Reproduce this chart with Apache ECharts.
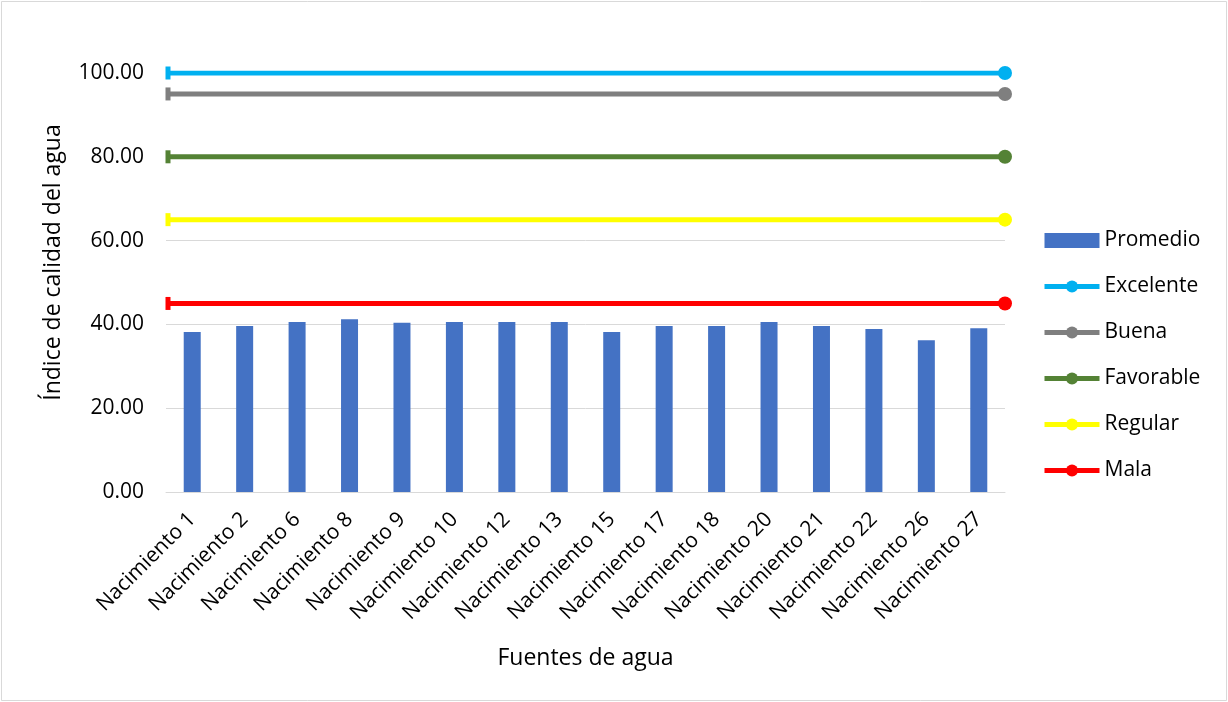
<!DOCTYPE html>
<html>
<head>
<meta charset="utf-8">
<title>Índice de calidad del agua</title>
<script src="https://cdn.jsdelivr.net/npm/echarts@6/dist/echarts.min.js"></script>
<style>
  html, body { margin: 0; padding: 0; background: #fff; }
  #chart { width: 1228px; height: 702px; }
</style>
</head>
<body>
<div id="chart"></div>
<script>
// Fuentes de agua evaluadas
const categorias = [
  'Nacimiento 1', 'Nacimiento 2', 'Nacimiento 6', 'Nacimiento 8',
  'Nacimiento 9', 'Nacimiento 10', 'Nacimiento 12', 'Nacimiento 13',
  'Nacimiento 15', 'Nacimiento 17', 'Nacimiento 18', 'Nacimiento 20',
  'Nacimiento 21', 'Nacimiento 22', 'Nacimiento 26', 'Nacimiento 27'
];

// Índice promedio de cada fuente
const promedio = [38.2, 39.6, 40.6, 41.2, 40.4, 40.6, 40.6, 40.6,
                  38.2, 39.6, 39.6, 40.6, 39.6, 38.9, 36.2, 39.1];

// Límites de cada clase de calidad
const niveles = ['Excelente', 'Buena', 'Favorable', 'Regular', 'Mala'];
const umbrales = [100, 95, 80, 65, 45];
const coloresNivel = ['#00B0F0', '#7F7F7F', '#548235', '#FFFF00', '#FF0000'];

// Escala del eje vertical
const ejeYMin = 0;
const ejeYMax = 100;
const ejeYPaso = 20;

const fuente = '"Open Sans", "Liberation Sans", sans-serif';

const seriesNiveles = niveles.map((nombre, i) => ({
  name: nombre,
  type: 'line',
  xAxisIndex: 1,
  symbol: 'circle',
  symbolSize: 14,
  lineStyle: { width: 5, color: coloresNivel[i] },
  itemStyle: { color: coloresNivel[i] },
  z: 3,
  silent: true,
  data: [
    { value: umbrales[i], symbol: 'rect', symbolSize: [5, 13], symbolOffset: [2, 0] },
    umbrales[i]
  ]
}));

// Entradas de la leyenda: barra rectangular; las líneas usan su icono propio
const leyenda = [{ name: 'Promedio', icon: 'rect' }].concat(niveles);

const chart = echarts.init(document.getElementById('chart'));

chart.setOption({
  animation: false,
  backgroundColor: '#fff',
  textStyle: { fontFamily: fuente },
  graphic: [{
    type: 'rect',
    shape: { x: 1.5, y: 1.5, width: 1225, height: 699 },
    style: { fill: 'none', stroke: '#D9D9D9', lineWidth: 1 },
    silent: true
  }],
  grid: { left: 166, right: 223, top: 73, bottom: 210, containLabel: false },
  legend: {
    orient: 'vertical',
    left: 1037,
    top: 225,
    itemWidth: 55,
    itemHeight: 15,
    itemGap: 25,
    lineStyle: { width: 5 },
    textStyle: { fontFamily: fuente, fontSize: 21, color: '#000', lineHeight: 20 },
    data: leyenda
  },
  xAxis: [{
    type: 'category',
    data: categorias,
    name: 'Fuentes de agua',
    nameLocation: 'middle',
    nameGap: 155,
    nameTextStyle: { fontFamily: fuente, fontSize: 23, color: '#000' },
    axisLine: { lineStyle: { color: '#D9D9D9', width: 1 } },
    axisTick: { show: false },
    axisLabel: {
      rotate: 45,
      margin: 24,
      fontFamily: fuente,
      fontSize: 21,
      color: '#000'
    }
  }, {
    type: 'category',
    data: ['inicio', 'fin'],
    boundaryGap: false,
    show: false
  }],
  yAxis: {
    type: 'value',
    min: ejeYMin,
    max: ejeYMax,
    interval: ejeYPaso,
    name: 'Índice de calidad del agua',
    nameLocation: 'middle',
    nameRotate: 90,
    nameGap: 101,
    nameTextStyle: { fontFamily: fuente, fontSize: 23, color: '#000', padding: [0, 0, 0, 40] },
    axisLine: { show: false },
    axisTick: { show: false },
    splitLine: { lineStyle: { color: '#D9D9D9', width: 1 } },
    axisLabel: {
      margin: 22,
      fontFamily: fuente,
      fontSize: 21,
      color: '#000',
      formatter: v => v.toFixed(2)
    }
  },
  series: [{
    name: 'Promedio',
    type: 'bar',
    barWidth: 17,
    itemStyle: { color: '#4472C4' },
    z: 2,
    data: promedio
  }].concat(seriesNiveles)
});
</script>
</body>
</html>
